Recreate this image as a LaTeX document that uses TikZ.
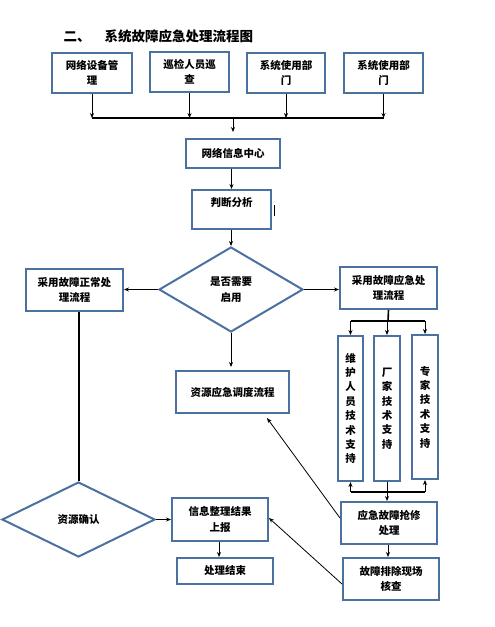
\documentclass[tikz,border=0pt]{standalone}
\usepackage{fontspec}
\setmainfont{Noto Sans CJK SC}
\usetikzlibrary{shapes.geometric,arrows.meta,calc}
\definecolor{boxblue}{HTML}{4A71A0}
\tikzset{
  box/.style={draw=boxblue, line width=2pt, fill=white, inner sep=0pt, align=center,
    font=\fontsize{10.5}{15.5}\selectfont\bfseries},
  vbox/.style={box, font=\fontsize{10.5}{14.4}\selectfont\bfseries},
  dbox/.style={draw=boxblue, line width=2pt, fill=white, shape=diamond, inner sep=0pt, align=center,
    font=\fontsize{10.5}{15.5}\selectfont\bfseries},
  arr/.style={draw=black, line width=0.8pt, -{Stealth[length=5pt,width=4pt]}},
  thk/.style={draw=black, line width=2pt},
  ln/.style={draw=black, line width=1.6pt}
}
\begin{document}
\begin{tikzpicture}[x=1pt,y=-1pt]
\useasboundingbox (0,0) rectangle (495,627);
\node[anchor=west, font=\fontsize{13.5}{16}\selectfont\bfseries] (title) at (60,36) {二、\hspace{14pt}系统故障应急处理流程图};
% top row
\node[box, minimum width=80pt, minimum height=40pt] (t1) at (92,73) {网络设备管\\理};
\node[box, minimum width=79pt, minimum height=40pt] (t2) at (189.5,72) {巡检人员巡\\查};
\node[box, minimum width=78pt, minimum height=40pt] (t3) at (286,73) {系统使用部\\门};
\node[box, minimum width=79pt, minimum height=40pt] (t4) at (383.5,73) {系统使用部\\门};
\coordinate (bus1) at (92,118);
\coordinate (bus4) at (383.5,118);
\coordinate (busc) at (233,118);
\draw[thk] (bus1) -- (bus4);
\draw[arr] (t1.south) -- (t1.south |- bus1);
\draw[arr] (t2.south) -- (t2.south |- bus1);
\draw[arr] (t3.south) -- (t3.south |- bus1);
\draw[arr] (t4.south) -- (t4.south |- bus1);
\node[box, minimum width=94pt, minimum height=29pt] (net) at (233,153.5) {网络信息中心};
\draw[arr, shorten >=6pt] (busc) -- (net.north);
\node[box, minimum width=79pt, minimum height=39pt] (judge) at (231.5,209.5) {};
\node[font=\fontsize{10.5}{15.5}\selectfont\bfseries, inner sep=0pt] (judgetxt) at (231.5,203) {判断分析};
\draw[line width=1pt] (274,205) -- (274,216);
\draw[arr] (judge.north |- net.south) -- (judge.north);
\node[dbox, minimum width=144pt, minimum height=85pt] (dia) at (231,289.5) {是否需要\\启用};
\draw[arr] (dia.north |- judge.south) -- (dia.north);
\node[box, minimum width=97pt, minimum height=42pt] (normal) at (74.5,290) {采用故障正常处\\理流程};
\node[box, minimum width=97pt, minimum height=42pt] (emerg) at (388.5,288) {采用故障应急处\\理流程};
\draw[arr] (dia.west) -- (normal.east |- dia.west);
\draw[arr] (dia.east) -- (emerg.west |- dia.east);
% emergency branch
\node[vbox, minimum width=25pt, minimum height=145pt] (A) at (350.5,408.5) {维\\护\\人\\员\\技\\术\\支\\持};
\node[vbox, minimum width=26pt, minimum height=145pt] (B) at (387,408.5) {厂\\家\\技\\术\\支\\持};
\node[vbox, minimum width=26pt, minimum height=144pt] (C) at (425,407) {专\\家\\技\\术\\支\\持};
\coordinate (br) at (388,321);
\draw[ln] (emerg.south) -- (br);
\draw[ln] (A.north |- br) -- (C.north |- br);
\draw[arr] (A.north |- br) -- (A.north);
\draw[arr] (B.north |- br) -- (B.north);
\draw[arr] (C.north |- br) -- (C.north);
\node[box, minimum width=96pt, minimum height=42pt] (rush) at (389,523) {应急故障抢修\\处理};
\node[box, minimum width=96pt, minimum height=42pt] (check) at (391,579) {故障排除现场\\核查};
\coordinate (bb) at (387,492);
\draw[ln] (A.south |- bb) -- (C.south |- bb);
\draw[arr] (A.south |- bb) -- (A.south);
\draw[arr] (C.south |- bb) -- (C.south);
\draw[arr] (B.south) -- (B.south |- rush.north);
\draw[arr] (rush.south -| 388,0) -- (check.north -| 388,0);
% dispatch
\node[box, minimum width=113pt, minimum height=42pt] (disp) at (232.5,392) {资源应急调度流程};
\draw[arr, shorten >=3pt] (dia.south) -- (dia.south |- disp.north);
\draw[arr] ([yshift=5pt]rush.west) -- ([xshift=34.5pt,yshift=-4pt]disp.south);
% left branch
\node[dbox, minimum width=153pt, minimum height=75pt] (confirm) at (78.5,519.5) {资源确认};
\draw[thk] (confirm.north |- normal.south) -- (confirm.north);
\node[box, minimum width=96pt, minimum height=43pt] (report) at (220,519.5) {信息整理结果\\上报};
\node[box, minimum width=96pt, minimum height=26pt] (endn) at (225,571) {处理结束};
\draw[arr] (confirm.east) -- (report.west |- confirm.east);
\draw[arr] (report.south -| 219,0) -- (endn.north -| 219,0);
\draw[arr] ([yshift=-5pt]check.west) -- ([yshift=1.5pt]report.east);
\end{tikzpicture}
\end{document}
